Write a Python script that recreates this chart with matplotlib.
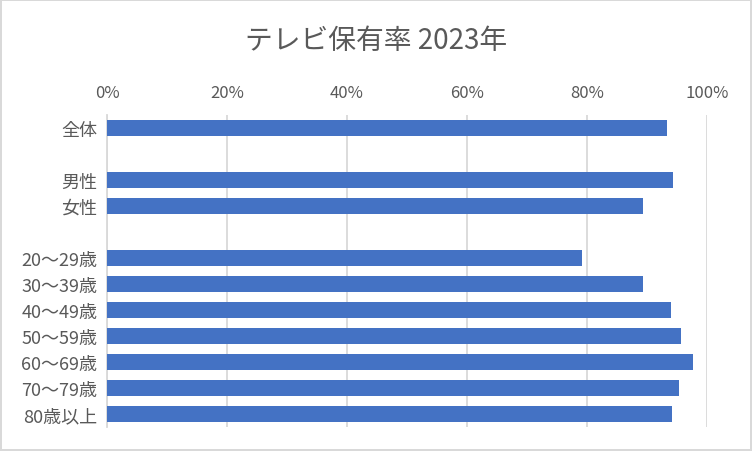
import matplotlib.pyplot as plt
import matplotlib.ticker as mticker

plt.rcParams['font.family'] = ['Noto Sans CJK JP', 'DejaVu Sans']

labels = ['全体', '', '男性', '女性', '',
          '20～29歳', '30～39歳', '40～49歳', '50～59歳', '60～69歳', '70～79歳', '80歳以上']
values = [93.3, None, 94.3, 89.3, None,
          79.2, 89.3, 94.0, 95.7, 97.7, 95.3, 94.2]

fig = plt.figure(figsize=(7.52, 4.52), dpi=100)
fig.patch.set_edgecolor('#d9d9d9')
fig.patch.set_linewidth(1.5)
ax = fig.add_axes([0.1423, 0.0531, 0.7979, 0.6903])

ypos = list(range(len(labels)))
for y, v in zip(ypos, values):
    if v is not None:
        ax.barh(y, v, height=0.65, color='#4472c4', zorder=3)

ax.set_ylim(len(labels) - 0.5, -0.5)
ax.set_xlim(0, 100)
ax.set_yticks(ypos)
ax.set_yticklabels(labels, fontsize=13, color='#595959')
ax.xaxis.tick_top()
ax.set_xticks(range(0, 101, 20))
ax.xaxis.set_major_formatter(mticker.FuncFormatter(lambda x, p: f'{int(x)}%'))
ax.tick_params(axis='x', length=0, pad=10, labelsize=12, labelcolor='#595959')
ax.tick_params(axis='y', length=0, pad=7)
ax.grid(axis='x', color='#d9d9d9', linewidth=1.3, zorder=0)
for s in ['top', 'right', 'bottom']:
    ax.spines[s].set_visible(False)
ax.spines['left'].set_color('#d9d9d9')
ax.spines['left'].set_linewidth(1.3)

fig.text(0.5, 0.91, 'テレビ保有率 2023年', ha='center', va='center',
         fontsize=20, color='#595959')

fig.savefig('out.png', dpi=100, edgecolor=fig.get_edgecolor())
